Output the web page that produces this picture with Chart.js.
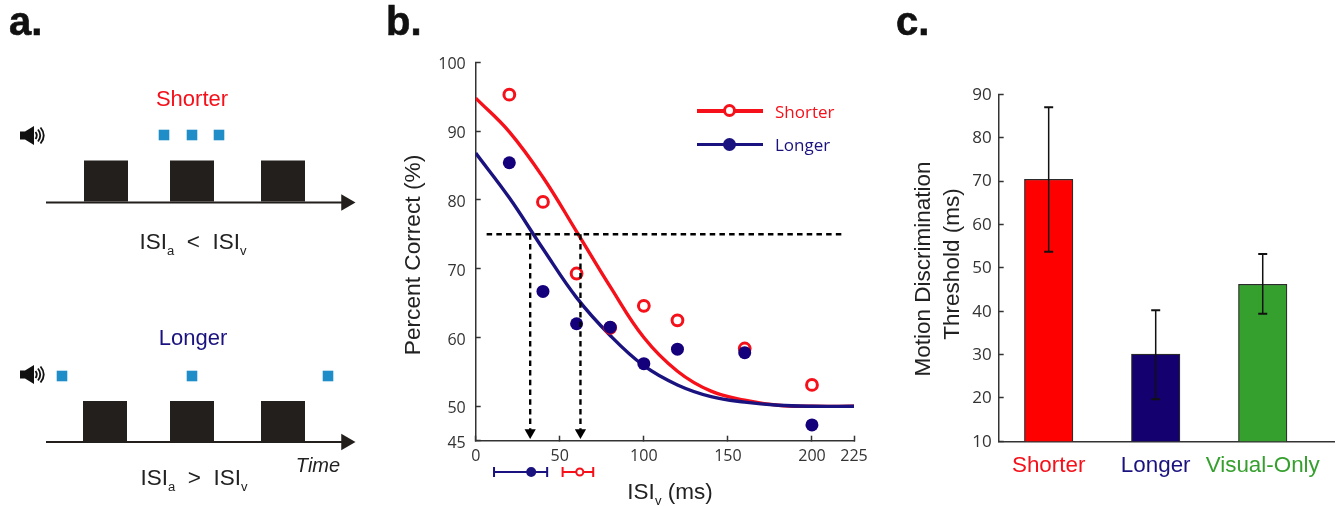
<!DOCTYPE html>
<html>
<head>
	<meta charset="utf-8">
	<title>Motion discrimination</title>
	<script src="https://cdn.jsdelivr.net/npm/chart.js@4"></script>
	<style>
		html, body { margin: 0; background: #fff; }
		#page { position: relative; width: 1340px; height: 506px; overflow: hidden; font-family: "Liberation Sans", Arial, sans-serif; }
		#page canvas { position: absolute; }
		.label { position: absolute; transform: translate(-50%, -50%); white-space: pre; color: #222; line-height: 1; }
		.label sub { font-size: 0.58em; vertical-align: -0.45em; line-height: 0; }
		.letter { position: absolute; font-weight: bold; font-size: 40px; color: #111; line-height: 1; -webkit-text-stroke: 0.6px #111; }
		.legendRow { position: absolute; left: 697px; width: 66px; height: 3.5px; }
		.legendDot { position: absolute; left: 26px; top: -5px; width: 13px; height: 13px; border-radius: 50%; box-sizing: border-box; background: #fff; }
		svg { position: absolute; }
	</style>
</head>
<body>
<div id="page">
	<canvas id="chartA" width="380" height="506" style="left:0;top:0"></canvas>
	<canvas id="chartB" width="510" height="506" style="left:380px;top:0"></canvas>
	<canvas id="chartCI" width="490" height="24" style="left:380px;top:460px"></canvas>
	<canvas id="chartC" width="450" height="506" style="left:890px;top:0"></canvas>
</div>

<script type="text/javascript">
	// panel a, schematic timeline (arbitrary units)
	let blockStarts = [84, 170, 261];
	let blockEnds = [128, 214, 305];
	let flashesShorter = [164, 192, 219];
	let flashesLonger = [62, 192, 328];
	let rowTimeline = [202.5, 442];
	let rowFlashes = [135, 376];
	let rowBlocks = [181, 421.5];

	// panel b, psychometric data
	let isiValues = [20, 40, 60, 80, 100, 120, 160, 200];
	let shorterPoints = [95.3, 79.7, 69.3, 61.4, 64.6, 62.5, 58.4, 53.1];
	let longerPoints = [85.4, 66.7, 62, 61.5, 56.2, 58.3, 57.8, 47.3];
	let fitX = [0, 20, 40, 60, 80, 100, 120, 140, 160, 180, 200, 225];
	let shorterFit = [94.8, 89.9, 83.3, 75.4, 67.4, 60, 55.1, 52.2, 50.9, 50.15, 50, 50];
	let longerFit = [86.8, 80.3, 72.9, 65.8, 60.3, 55.9, 53.1, 51.4, 50.6, 50.15, 50, 50];
	let chanceLevel = 75;
	let chanceSpan = [6.5, 219];
	let thresholds = [32.4, 62.3];
	let arrowTip = 46.2;
	let xTicksB = [0, 50, 100, 150, 200, 225];
	let yTicksB = [45, 50, 60, 70, 80, 90, 100];
	let ciLonger = [10.9, 33, 42.5];
	let ciShorter = [51.7, 61.9, 69.9];

	// panel c, thresholds
	let categories = ["Shorter", "Longer", "Visual-Only"];
	let barValues = [70.4, 30.1, 46.2];
	let errLow = [53.7, 19.7, 39.4];
	let errHigh = [87, 40.2, 53.2];

	let RED = "#f5101a";
	let NAVY = "#1a137f";
	let GREEN = "#35a02e";
	let BLACK = "#231f1c";
	let AXIS = "#333333";
	let TICKFONT = '"Open Sans", sans-serif';

	Chart.defaults.animation = false;
	Chart.defaults.responsive = false;
	Chart.defaults.plugins.legend.display = false;
	Chart.defaults.plugins.tooltip.enabled = false;
	Chart.defaults.layout.autoPadding = false;

	function addLabel(html, x, y, size, color, extra) {
		let el = document.createElement("div");
		el.className = "label";
		el.innerHTML = html;
		el.style.left = x + "px";
		el.style.top = y + "px";
		el.style.fontSize = size + "px";
		el.style.color = color;
		if (extra) el.style.cssText += extra;
		document.getElementById("page").appendChild(el);
	}

	function addLetter(text, x, y) {
		let el = document.createElement("div");
		el.className = "letter";
		el.textContent = text;
		el.style.left = x + "px";
		el.style.top = y + "px";
		document.getElementById("page").appendChild(el);
	}

	function addSpeaker(x, y) {
		let svg = document.createElementNS("http://www.w3.org/2000/svg", "svg");
		svg.setAttribute("width", 25);
		svg.setAttribute("height", 19);
		svg.setAttribute("viewBox", "0 0 25 19");
		svg.style.left = x + "px";
		svg.style.top = y + "px";
		svg.innerHTML = '<path d="M0 5.500h5l9-5.500v19l-9-5.500H0z" fill="#111"/>'
			+ '<path d="M15.500 6q2.500 3.500 0 7M18 3.500q4.500 6 0 12M20.500 1.500q6.500 8 0 16" fill="none" stroke="#111" stroke-width="1.800"/>';
		document.getElementById("page").appendChild(svg);
	}

	// panel a
	let datasetsA = [];
	for (let row = 0; row < 2; row++) {
		for (let i = 0; i < blockStarts.length; i++) {
			datasetsA.push({
				data: [{x: blockStarts[i] - (row == 1 && i == 0 ? 1 : 0), y: rowBlocks[row]}, {x: blockEnds[i] - (row == 1 && i == 0 ? 1 : 0), y: rowBlocks[row]}],
				borderColor: BLACK,
				borderWidth: 41,
				borderCapStyle: "butt",
				pointRadius: 0
			});
		}
		datasetsA.push({
			data: [{x: 46, y: rowTimeline[row]}, {x: 346, y: rowTimeline[row]}],
			borderColor: BLACK,
			backgroundColor: BLACK,
			borderWidth: 2,
			pointRadius: [0, 9.5],
			pointStyle: "triangle",
			pointRotation: 90,
			pointBorderWidth: 0
		});
		let flashes = row == 0 ? flashesShorter : flashesLonger;
		datasetsA.push({
			data: flashes.map(x => ({x: x, y: rowFlashes[row]})),
			showLine: false,
			pointStyle: "rect",
			pointRadius: 7.5,
			pointBorderWidth: 0,
			pointBackgroundColor: "#1f8ec8"
		});
	}

	new Chart(document.getElementById("chartA"), {
		type: "line",
		data: {datasets: datasetsA},
		options: {
			parsing: false,
			scales: {
				x: {type: "linear", display: false, min: 0, max: 380},
				y: {type: "linear", display: false, min: 0, max: 506, reverse: true}
			}
		}
	});

	// panel b
	new Chart(document.getElementById("chartB"), {
		type: "line",
		data: {
			datasets: [
				{
					label: "Longer",
					order: 1,
					data: isiValues.map((x, i) => ({x: x, y: longerPoints[i]})),
					showLine: false,
					pointRadius: 6.5,
					pointBorderWidth: 0,
					pointBackgroundColor: "#14007a"
				},
				{
					label: "Shorter",
					order: 2,
					data: isiValues.map((x, i) => ({x: x, y: shorterPoints[i]})),
					showLine: false,
					pointRadius: 5.4,
					pointBorderWidth: 3,
					pointBorderColor: RED,
					pointBackgroundColor: "#fff"
				},
				{
					order: 3,
					data: fitX.map((x, i) => ({x: x, y: longerFit[i]})),
					borderColor: NAVY,
					borderWidth: 3.4,
					pointRadius: 0,
					tension: 0.4
				},
				{
					order: 4,
					data: fitX.map((x, i) => ({x: x, y: shorterFit[i]})),
					borderColor: RED,
					borderWidth: 3.4,
					pointRadius: 0,
					tension: 0.4
				},
				{
					order: 0,
					data: chanceSpan.map(x => ({x: x, y: chanceLevel})),
					borderColor: "#000",
					borderWidth: 2.4,
					borderDash: [5.5, 4.2],
					pointRadius: 0
				},
				{
					order: 0,
					data: [{x: thresholds[0], y: chanceLevel}, {x: thresholds[0], y: arrowTip}],
					borderColor: "#000",
					backgroundColor: "#000",
					borderWidth: 2.4,
					borderDash: [5.5, 4.2],
					pointStyle: "triangle",
					pointRotation: 180,
					pointRadius: [0, 6.5],
					pointBorderWidth: 0
				},
				{
					order: 0,
					data: [{x: thresholds[1], y: chanceLevel}, {x: thresholds[1], y: arrowTip}],
					borderColor: "#000",
					backgroundColor: "#000",
					borderWidth: 2.4,
					borderDash: [5.5, 4.2],
					pointStyle: "triangle",
					pointRotation: 180,
					pointRadius: [0, 6.5],
					pointBorderWidth: 0
				}
			]
		},
		options: {
			parsing: false,
			layout: {padding: {left: 0, right: 36, top: 62.3, bottom: 0}},
			scales: {
				x: {
					type: "linear",
					min: 0,
					max: 225,
					afterFit: s => { s.height = 65.3; },
					afterBuildTicks: s => { s.ticks = xTicksB.map(v => ({value: v})); },
					border: {color: AXIS, width: 1.5},
					grid: {drawOnChartArea: false, tickLength: -5, color: AXIS, tickWidth: 1.5},
					ticks: {color: AXIS, font: {family: TICKFONT, size: 16}, padding: 11, maxRotation: 0, autoSkip: false, callback: v => v}
				},
				y: {
					type: "linear",
					min: 45,
					max: 100,
					afterFit: s => { s.width = 95.7; },
					afterBuildTicks: s => { s.ticks = yTicksB.map(v => ({value: v})); },
					border: {color: AXIS, width: 1.5},
					grid: {drawOnChartArea: false, tickLength: -5, color: AXIS, tickWidth: 1.5},
					ticks: {color: AXIS, font: {family: TICKFONT, size: 16}, padding: 15, labelOffset: 2.5, autoSkip: false, callback: v => v}
				}
			}
		}
	});

	// threshold confidence bars under panel b's axis
	new Chart(document.getElementById("chartCI"), {
		type: "line",
		data: {
			datasets: [
				{
					data: ciLonger.map(x => ({x: x, y: 0})),
					borderColor: NAVY,
					borderWidth: 2,
					pointStyle: ["line", "circle", "line"],
					pointRotation: [90, 0, 90],
					pointRadius: [5, 4, 5],
					pointBorderWidth: 2,
					pointBorderColor: NAVY,
					pointBackgroundColor: NAVY
				},
				{
					data: ciShorter.map(x => ({x: x, y: 0})),
					borderColor: RED,
					borderWidth: 2,
					pointStyle: ["line", "circle", "line"],
					pointRotation: [90, 0, 90],
					pointRadius: [5, 3.5, 5],
					pointBorderWidth: 2,
					pointBorderColor: RED,
					pointBackgroundColor: "#fff"
				}
			]
		},
		options: {
			parsing: false,
			layout: {padding: {left: 95.7, right: 16, top: 0, bottom: 0}},
			scales: {
				x: {type: "linear", display: false, min: 0, max: 225},
				y: {type: "linear", display: false, min: -1, max: 1}
			}
		}
	});

	// panel c
	let barColors = ["#ff0000", "#14006f", GREEN];
	let labelColors = [RED, NAVY, GREEN];
	let datasetsC = [{
		type: "bar",
		order: 2,
		data: barValues.map((v, i) => ({x: i + 1, y: v})),
		backgroundColor: barColors,
		borderColor: "#2b2b2b",
		borderWidth: 1.2,
		barThickness: 48.5
	}];
	categories.forEach((c, i) => {
		datasetsC.push({
			type: "line",
			order: 1,
			data: [{x: i + 1, y: errLow[i]}, {x: i + 1, y: errHigh[i]}],
			borderColor: "#111",
			borderWidth: 1.5,
			pointStyle: "line",
			pointRadius: 4.5,
			pointBorderWidth: 2,
			pointBorderColor: "#111"
		});
	});

	new Chart(document.getElementById("chartC"), {
		type: "bar",
		data: {datasets: datasetsC},
		options: {
			parsing: false,
			layout: {padding: {left: 0, right: 6, top: 94.3, bottom: 0}},
			scales: {
				x: {
					type: "linear",
					offset: false,
					min: 0.533,
					max: 3.666,
					afterFit: s => { s.height = 64.7; },
					afterBuildTicks: s => { s.ticks = categories.map((c, i) => ({value: i + 1})); },
					border: {color: AXIS, width: 1.5},
					grid: {display: false},
					ticks: {
						color: ctx => labelColors[ctx.index],
						font: {family: '"Liberation Sans"', size: 22.4},
						padding: 3,
						maxRotation: 0,
						autoSkip: false,
						callback: v => categories[v - 1]
					}
				},
				y: {
					type: "linear",
					min: 10,
					max: 90,
					afterFit: s => { s.width = 108.7; },
					afterBuildTicks: s => { s.ticks = [10, 20, 30, 40, 50, 60, 70, 80, 90].map(v => ({value: v})); },
					border: {color: AXIS, width: 1.5},
					grid: {drawOnChartArea: false, tickLength: -5, color: AXIS, tickWidth: 1.5},
					ticks: {color: AXIS, font: {family: TICKFONT, size: 17}, padding: 12, labelOffset: 0.5, autoSkip: false}
				}
			}
		}
	});

	// text and the legend sit on top of the canvases
	addLetter("a.", 9, 1);
	addLetter("b.", 386, 1);
	addLetter("c.", 896, 1);

	addLabel("Shorter", 192, 99, 22, RED);
	addLabel("Longer", 193, 338, 22, NAVY);
	addLabel("ISI<sub>a</sub>  &lt;  ISI<sub>v</sub>", 193, 242, 22.5, "#222");
	addLabel("ISI<sub>a</sub>  &gt;  ISI<sub>v</sub>", 194, 478, 22.5, "#222");
	addLabel("Time", 318, 465, 20, "#222", "font-style:italic");
	addLabel("ISI<sub>v</sub> (ms)", 670, 492, 22.5, "#222");

	let rotate = "transform:translate(-50%,-50%) rotate(-90deg)";
	addLabel("Percent Correct (%)", 412, 255, 22.7, "#222", rotate);
	addLabel("Motion Discrimination", 923, 269, 22.5, "#222", rotate);
	addLabel("Threshold (ms)", 952, 264, 22.5, "#222", rotate);

	addSpeaker(20, 126);
	addSpeaker(20, 365);

	let legendNames = ["Shorter", "Longer"];
	let legendColors = [RED, NAVY];
	let legendTops = [109, 142.5];
	legendNames.forEach((name, i) => {
		let row = document.createElement("div");
		row.className = "legendRow";
		row.style.top = legendTops[i] + "px";
		row.style.background = legendColors[i];
		let dot = document.createElement("div");
		dot.className = "legendDot";
		if (i == 0) dot.style.border = "3px solid " + RED;
		else dot.style.background = NAVY;
		row.appendChild(dot);
		document.getElementById("page").appendChild(row);
		addLabel(name, 775, legendTops[i] + 1.5, 17, legendColors[i], 'font-family:"Open Sans";transform:translate(0,-50%)');
	});
</script>
</body>
</html>
